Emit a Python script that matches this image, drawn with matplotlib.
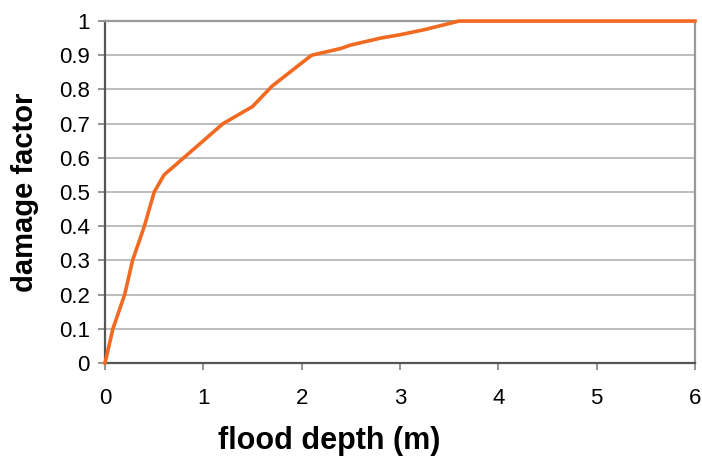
import matplotlib.pyplot as plt

# curva de daño
depth = [0, 0.08, 0.2, 0.28, 0.4, 0.5, 0.6, 0.8, 1.0, 1.2, 1.5, 1.7, 2.1,
         2.4, 2.5, 2.8, 3.0, 3.25, 3.6, 6]
factor = [0, 0.1, 0.2, 0.3, 0.4, 0.5, 0.55, 0.6, 0.65, 0.7, 0.75, 0.81, 0.9,
          0.92, 0.93, 0.95, 0.96, 0.975, 1.0, 1.0]

x_ticks = [0, 1, 2, 3, 4, 5, 6]
y_ticks = [0, 0.1, 0.2, 0.3, 0.4, 0.5, 0.6, 0.7, 0.8, 0.9, 1]
y_labels = ['0', '0.1', '0.2', '0.3', '0.4', '0.5', '0.6', '0.7', '0.8', '0.9', '1']

plt.rcParams['font.family'] = ['Liberation Sans', 'DejaVu Sans']

fig = plt.figure(figsize=(7.02, 4.58), dpi=100)
ax = fig.add_axes([0.1496, 0.2074, 0.8404, 0.7466])

for y in y_ticks[1:]:
    ax.axhline(y, color='#b8b8b8', lw=1.3, zorder=1)

ax.plot(depth, factor, color='#f26a21', lw=2.6, zorder=3, clip_on=False)

ax.set_xlim(0, 6)
ax.set_ylim(0, 1)
ax.set_xticks(x_ticks)
ax.set_yticks(y_ticks)
ax.set_yticklabels(y_labels)
ax.tick_params(labelsize=16, length=5, width=1.2, color='#808080', pad=6)
ax.tick_params(axis='x', pad=13)

for s in ['left', 'bottom']:
    ax.spines[s].set_color('#555555')
    ax.spines[s].set_linewidth(1.6)
for s in ['top', 'right']:
    ax.spines[s].set_color('#999999')
    ax.spines[s].set_linewidth(1.6)

ax.set_xlabel('flood depth (m)', fontsize=22, fontweight='bold')
ax.set_ylabel('damage factor', fontsize=21, fontweight='bold')
ax.xaxis.set_label_coords(0.38, -0.185)
ax.yaxis.set_label_coords(-0.112, 0.5)

plt.savefig('out.png', dpi=100)
